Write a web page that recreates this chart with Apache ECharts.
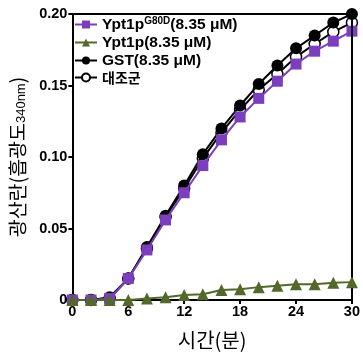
<!DOCTYPE html>
<html>
<head>
<meta charset="utf-8">
<script src="https://cdn.jsdelivr.net/npm/echarts@6/dist/echarts.min.js"></script>
<style>
  html, body { margin: 0; padding: 0; background: #fff; }
  #chart { width: 363px; height: 355px; }
</style>
</head>
<body>
<div id="chart"></div>
<script>
const times = [0, 2, 4, 6, 8, 10, 12, 14, 16, 18, 20, 22, 24, 26, 28, 30]
const g80d = [0, 0, 0.001, 0.015, 0.035, 0.056, 0.075, 0.094, 0.112, 0.128, 0.141, 0.153, 0.165, 0.174, 0.181, 0.188]
const ypt1p = [0, 0, 0, 0, 0.001, 0.002, 0.0035, 0.004, 0.007, 0.0076, 0.009, 0.010, 0.011, 0.011, 0.012, 0.0125]
const gst = [0, 0, 0.002, 0.015, 0.037, 0.059, 0.080, 0.102, 0.120, 0.136, 0.151, 0.164, 0.176, 0.185, 0.194, 0.200]
const control = [0, 0, 0.001, 0.015, 0.036, 0.058, 0.078, 0.099, 0.117, 0.133, 0.147, 0.158, 0.170, 0.179, 0.1875, 0.194]
const names = ['Ypt1pG80D', 'Ypt1p', 'GST', '대조군']

const pair = arr => times.map((t, i) => [t, arr[i]])
const latin = '"Liberation Sans", Arial, sans-serif'
const kr = '"Noto Sans CJK KR", "Liberation Sans", sans-serif'

const chart = echarts.init(document.getElementById('chart'))
chart.setOption({
  animation: false,
  grid: { left: 71, right: 8, top: 14, bottom: 52 },
  legend: {
    left: 74,
    top: 16,
    orient: 'vertical',
    itemGap: 2,
    itemWidth: 22,
    itemHeight: 10,
    padding: 0,
    data: names,
    textStyle: {
      fontFamily: latin, fontSize: 15.5, fontWeight: 'bold', color: '#000',
      rich: {
        a: { fontFamily: latin, fontSize: 15.5, fontWeight: 'bold', color: '#000' },
        sup: { fontFamily: latin, fontSize: 10, fontWeight: 'bold', color: '#000', verticalAlign: 'top', padding: [0, 0, 7, 0] },
        k: { fontFamily: kr, fontSize: 14, color: '#000' }
      }
    },
    formatter: function (n) {
      if (n === 'Ypt1pG80D') return '{a|Ypt1p}{sup|G80D}{a|(8.35 μM)}'
      if (n === 'Ypt1p') return '{a|Ypt1p(8.35 μM)}'
      if (n === 'GST') return '{a|GST(8.35 μM)}'
      return '{k|대조군}'
    }
  },
  xAxis: {
    type: 'value',
    min: 0,
    max: 30,
    interval: 6,
    name: '시간(분)',
    nameLocation: 'middle',
    nameGap: 30,
    nameTextStyle: { fontFamily: kr, fontSize: 20, color: '#000' },
    axisLine: { lineStyle: { color: '#000', width: 2 } },
    axisTick: { lineStyle: { color: '#000', width: 2 }, length: 4 },
    axisLabel: { fontFamily: latin, fontSize: 14.5, fontWeight: 'bold', color: '#000', margin: 4 },
    splitLine: { show: false }
  },
  yAxis: {
    type: 'value',
    min: 0,
    max: 0.2,
    interval: 0.05,
    name: '{k|광산란(흡광도}{s|340nm}{k|)}',
    nameLocation: 'middle',
    nameGap: 42,
    nameTextStyle: {
      rich: {
        k: { fontFamily: kr, fontSize: 19.5, color: '#000' },
        s: { fontFamily: latin, fontSize: 13, color: '#000', verticalAlign: 'bottom', padding: [8, 0, 0, 0] }
      }
    },
    axisLine: { lineStyle: { color: '#000', width: 2 } },
    axisTick: { lineStyle: { color: '#000', width: 2 }, length: 4 },
    axisLabel: {
      fontFamily: latin, fontSize: 14.5, fontWeight: 'bold', color: '#000', margin: 5,
      formatter: v => v === 0 ? '0' : v.toFixed(2)
    },
    splitLine: { show: false }
  },
  series: [
    {
      name: '대조군', type: 'line', data: pair(control), z: 2,
      symbol: 'circle', symbolSize: 11,
      lineStyle: { color: '#000', width: 2 },
      itemStyle: { color: '#fff', borderColor: '#000', borderWidth: 1.5 }
    },
    {
      name: 'GST', type: 'line', data: pair(gst), z: 3,
      symbol: 'circle', symbolSize: 12,
      lineStyle: { color: '#000', width: 2 },
      itemStyle: { color: '#000' }
    },
    {
      name: 'Ypt1pG80D', type: 'line', data: pair(g80d), z: 4,
      symbol: 'rect', symbolSize: 11,
      lineStyle: { color: '#7b3fbe', width: 2 },
      itemStyle: { color: '#7b3fbe' }
    },
    {
      name: 'Ypt1p', type: 'line', data: pair(ypt1p), z: 5,
      symbol: 'triangle', symbolSize: 12,
      lineStyle: { color: '#52692b', width: 2 },
      itemStyle: { color: '#52692b' }
    },
    {
      type: 'line', data: [], silent: true,
      markLine: {
        silent: true, symbol: 'none', label: { show: false },
        lineStyle: { color: '#000', width: 2, type: 'solid' },
        data: [
          [{ coord: [0, 0.2] }, { coord: [30, 0.2] }],
          [{ coord: [30, 0] }, { coord: [30, 0.2] }]
        ]
      }
    }
  ]
})
</script>
</body>
</html>
